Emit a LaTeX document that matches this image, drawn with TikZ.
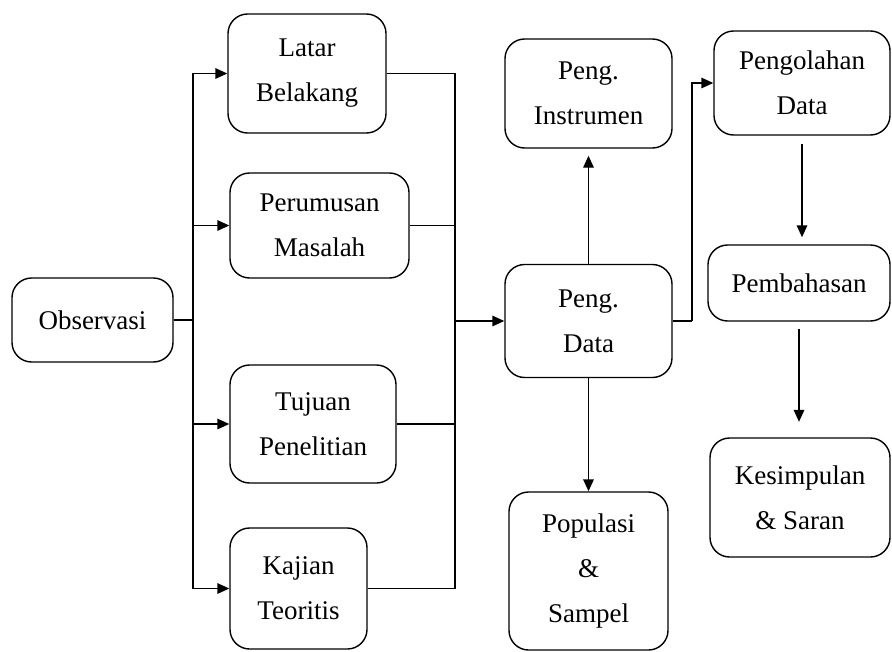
\documentclass[tikz,border=0pt]{standalone}
\usepackage{fontspec}
\setmainfont{Liberation Serif}
\usetikzlibrary{arrows.meta}
\tikzset{
  box/.style={draw, line width=1pt, rounded corners=14pt, align=center, inner sep=0pt,
    font=\fontsize{19.2}{32}\selectfont},
  line/.style={line width=1pt},
  arr/.style={line width=1pt, -{Triangle[length=8.5pt,width=7.5pt]}}
}

\begin{document}
\begin{tikzpicture}[x=0.025cm, y=-0.025cm]
\useasboundingbox (0,0) rectangle (892,651);
\node[box, minimum width=4.025cm, minimum height=2.1cm] (obs) at (92.5,320) {Observasi};
\node[box, minimum width=3.95cm, minimum height=2.975cm] (latar) at (307,73.5) {Latar\\Belakang};
\node[box, minimum width=4.475cm, minimum height=2.625cm] (rumus) at (319.5,225.5) {Perumusan\\Masalah};
\node[box, minimum width=4.15cm, minimum height=2.95cm] (tujuan) at (313,424) {Tujuan\\Penelitian};
\node[box, minimum width=3.425cm, minimum height=3.025cm] (kajian) at (298.5,588.5) {Kajian\\Teoritis};
\node[box, minimum width=4.175cm, minimum height=2.725cm] (inst) at (588.5,93.5) {Peng.\\Instrumen};
\node[box, minimum width=4.175cm, minimum height=2.825cm] (data) at (588.5,321) {Peng.\\Data};
\node[box, minimum width=3.975cm, minimum height=3.95cm] (popul) at (588.5,571) {Populasi\\\&\\Sampel};
\node[box, minimum width=4.4cm, minimum height=2.6cm] (olah) at (802,83) {Pengolahan\\Data};
\node[box, minimum width=4.55cm, minimum height=1.9cm] (bahas) at (799,283) {Pembahasan};
\node[box, minimum width=4.5cm, minimum height=2.975cm] (simpul) at (800,497.5) {Kesimpulan\\\& Saran};

\coordinate (split) at (193,320);
\coordinate (merge) at (455,321);
\coordinate (bend) at (692,321);

\draw[line] (obs.east) -- (split);
\draw[arr] (split) |- (latar.west);
\draw[arr] (split) |- (rumus.west);
\draw[arr] (split) |- (tujuan.west);
\draw[arr] (split) |- (kajian.west);

\draw[line] (latar.east) -| (merge);
\draw[line] (rumus.east) -| (merge);
\draw[line] (tujuan.east) -| (merge);
\draw[line] (kajian.east) -| (merge);
\draw[arr] (merge) -- (data.west);

\draw[arr, shorten >=5pt] (data.north) -- (inst.south);
\draw[arr] (data.south) -- (popul.north);
\draw[line] (data.east) -- (bend);
\draw[arr] (bend) |- (olah.west);

\draw[arr, shorten <=6pt, shorten >=5pt] (olah.south) -- (olah.south |- bahas.north);
\draw[arr, shorten <=5pt, shorten >=11pt] (bahas.south) -- (bahas.south |- simpul.north);
\end{tikzpicture}
\end{document}
